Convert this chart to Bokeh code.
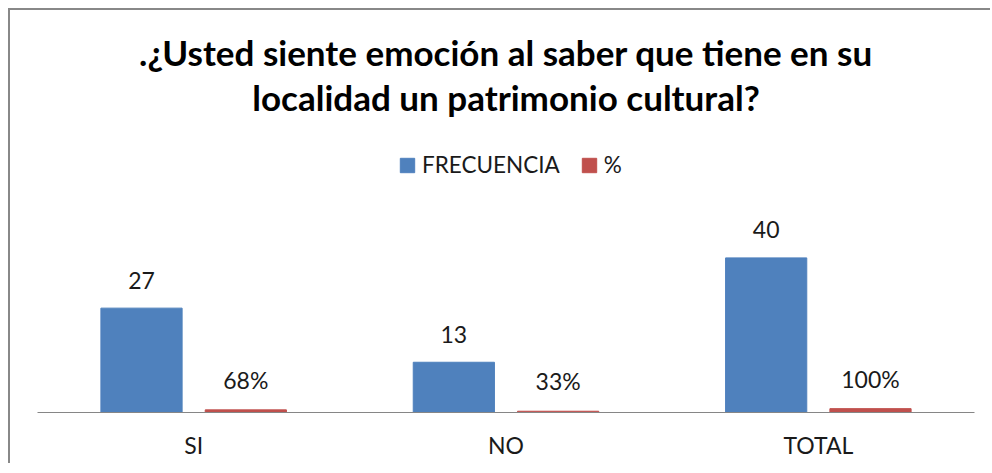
from bokeh.plotting import figure
from bokeh.models import ColumnDataSource, Label, Legend, LegendItem, FactorRange, Range1d
from bokeh.transform import dodge
from bokeh.core.properties import value
from bokeh.embed import file_html
from bokeh.resources import INLINE

categories = ["SI", "NO", "TOTAL"]
frecuencia = [27, 13, 40]
porcentaje = [0.68, 0.33, 1.00]
series_names = ["FRECUENCIA", "%"]
title_lines = [".¿Usted siente emoción al saber que tiene en su",
               "localidad un patrimonio cultural?"]

BLUE = "#4F81BD"
RED = "#C0504D"
FONT = "Lato"
TXT = "#1a1a1a"

src = ColumnDataSource(dict(
    cat=categories,
    frec=frecuencia,
    pct=porcentaje,
    frec_lbl=[str(v) for v in frecuencia],
    pct_lbl=[f"{round(v * 100)}%" for v in porcentaje],
))

W, H = 982, 455
ML, MR, MT, MB = 27, 18, 0, 53
frame_w = W - ML - MR
Y_TOP = 104

p = figure(x_range=FactorRange(*categories, range_padding=0), y_range=Range1d(0, Y_TOP),
           width=W, height=H, output_backend="svg", toolbar_location=None,
           y_axis_location=None, title=None,
           min_border_left=ML, min_border_right=MR, min_border_top=MT, min_border_bottom=MB)
p.margin = (8, 0, 0, 8)
p.styles = {"border-left": "2px solid #888888", "border-top": "2px solid #888888",
            "border-right": "none", "border-bottom": "none"}
p.outline_line_color = None
p.xgrid.grid_line_color = None
p.ygrid.grid_line_color = None
p.background_fill_color = "white"
p.border_fill_color = "white"

off = 0.167
bw = 0.26
r1 = p.vbar(x=dodge("cat", -off, range=p.x_range), top="frec", width=bw, source=src,
            fill_color=BLUE, line_color=BLUE)
r2 = p.vbar(x=dodge("cat", off, range=p.x_range), top="pct", width=bw, source=src,
            fill_color=RED, line_color=RED)

p.text(x=dodge("cat", -off, range=p.x_range), y="frec", text="frec_lbl", source=src,
       text_align="center", text_baseline="alphabetic", y_offset=-28,
       text_font=value(FONT), text_font_size="23px", text_color=TXT)
p.text(x=dodge("cat", off, range=p.x_range), y="pct", text="pct_lbl", source=src,
       text_align="center", text_baseline="alphabetic", y_offset=-30,
       text_font=value(FONT), text_font_size="23px", text_color=TXT)

ax = p.xaxis[0]
ax.axis_line_color = "#868686"
ax.axis_line_width = 1
ax.major_tick_line_color = None
ax.minor_tick_line_color = None
ax.major_label_text_font = FONT
ax.major_label_text_font_size = "23px"
ax.major_label_text_color = TXT
ax.major_label_standoff = 12

for line, y in zip(title_lines, [361, 316]):
    p.add_layout(Label(x=frame_w / 2, y=y, x_units="screen", y_units="screen", text=line,
                       text_align="center", text_baseline="middle",
                       text_font=FONT, text_font_style="bold", text_font_size="35px",
                       text_color="#000000"))

legend = Legend(items=[LegendItem(label=series_names[0], renderers=[r1]),
                       LegendItem(label=series_names[1], renderers=[r2])],
                orientation="horizontal", location=(361, 234),
                glyph_width=18, glyph_height=18, label_standoff=6, spacing=20,
                padding=0, margin=0, border_line_color=None, background_fill_alpha=0,
                label_text_font=FONT, label_text_font_size="22.5px", label_text_color=TXT,
                label_height=22)
p.add_layout(legend)

open("out.html", "w").write(file_html(p, INLINE))
